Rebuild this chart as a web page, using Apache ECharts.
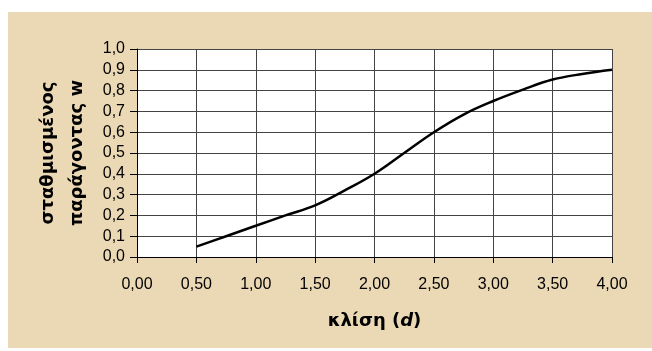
<!DOCTYPE html>
<html><head><meta charset="utf-8">
<script src="https://cdn.jsdelivr.net/npm/echarts@6/dist/echarts.min.js"></script>
<style>html,body{margin:0;padding:0;background:#fff}#c{width:652px;height:351px}</style>
</head><body><div id="c"></div>
<script>
const xValues = [0.5, 0.75, 1.0, 1.25, 1.5, 1.75, 2.0, 2.25, 2.5, 2.75, 3.0, 3.25, 3.5, 3.75, 4.0];
const wValues = [0.05, 0.10, 0.15, 0.20, 0.248, 0.32, 0.40, 0.50, 0.60, 0.685, 0.75, 0.805, 0.853, 0.88, 0.90];
const xTitle = 'κλίση (';
const yTitle = 'σταθμισμένος\nπαράγοντας w';

const chart = echarts.init(document.getElementById('c'));
const fmt = (v, d) => v.toFixed(d).replace('.', ',');
const titleFont = 'DejaVu Sans, Verdana, sans-serif';
chart.setOption({
  animation: false,
  graphic: [{type: 'rect', z: -10, silent: true, shape: {x: 8, y: 12, width: 644, height: 336}, style: {fill: '#ebd9b5'}}],
  grid: {left: 137, right: 40, top: 49, bottom: 94, show: true, backgroundColor: '#ffffff', borderWidth: 0},
  xAxis: {
    type: 'value', min: 0, max: 4, interval: 0.5,
    axisLine: {show: true, lineStyle: {color: '#000', width: 1}},
    axisTick: {show: true, length: 6, lineStyle: {color: '#000'}},
    splitLine: {show: true, lineStyle: {color: '#444', width: 1}},
    axisLabel: {color: '#000', fontFamily: 'Liberation Sans, Arial', fontSize: 16, margin: 20, formatter: v => fmt(v, 2)},
    name: '{b|' + xTitle + '}{i|d}{b|)}', nameLocation: 'middle', nameGap: 55,
    nameTextStyle: {rich: {
      b: {fontFamily: titleFont, fontWeight: 'bold', fontSize: 18, color: '#000'},
      i: {fontFamily: titleFont, fontWeight: 'bold', fontStyle: 'italic', fontSize: 18, color: '#000'}
    }}
  },
  yAxis: {
    type: 'value', min: 0, max: 1, interval: 0.1,
    axisLine: {show: true, lineStyle: {color: '#000', width: 1}},
    axisTick: {show: true, length: 7, lineStyle: {color: '#000'}},
    splitLine: {show: true, lineStyle: {color: '#444', width: 1}},
    axisLabel: {color: '#000', fontFamily: 'Liberation Sans, Arial', fontSize: 16, margin: 12, formatter: v => fmt(v, 1)},
    name: yTitle, nameLocation: 'middle', nameGap: 45, nameRotate: 90,
    nameTextStyle: {fontFamily: titleFont, fontWeight: 'bold', fontSize: 18, color: '#000', lineHeight: 29}
  },
  series: [{
    type: 'line', smooth: 0.4, symbol: 'none',
    data: xValues.map((x, i) => [x, wValues[i]]),
    lineStyle: {color: '#000', width: 2.5}
  }]
});
</script></body></html>
